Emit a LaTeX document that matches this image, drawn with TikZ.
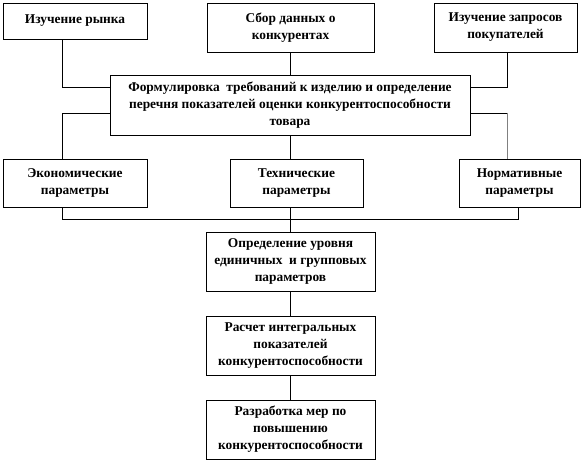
\documentclass[tikz,border=0pt]{standalone}
\usepackage{fontspec}
\setmainfont{Liberation Serif}
\usetikzlibrary{calc}
\definecolor{lineGray}{RGB}{128,128,128}

\begin{document}
\begin{tikzpicture}[x=1pt,y=-1pt,
  blok/.style={draw=black, line width=0.8pt, inner sep=0pt, align=center,
    font=\fontsize{13.4}{17}\selectfont\bfseries},
  link/.style={draw=black, line width=0.8pt}]
\useasboundingbox (0,0) rectangle (582,462);

% first row
\node[blok, minimum width=144, minimum height=36] (A) at (75,21) {Изучение рынка};
\node[blok, minimum width=167, minimum height=49] (B) at (290.5,27.5) {Сбор данных о\\конкурентах};
\node[blok, minimum width=143, minimum height=49] (C) at (505.5,27.5) {Изучение запросов\\покупателей};

\node[blok, minimum width=360, minimum height=60] (D) at (290,105)
  {Формулировка~ требований к изделию и определение\\перечня показателей оценки конкурентоспособности\\товара};

% parameters
\node[blok, minimum width=144, minimum height=48] (E) at (75,183) {Экономические\\параметры};
\node[blok, minimum width=133, minimum height=48] (F) at (296.5,183) {Технические\\параметры};
\node[blok, minimum width=121, minimum height=48] (G) at (519.5,183) {Нормативные\\параметры};

% chain
\node[blok, minimum width=169, minimum height=59] (H) at (290.5,261.5) {Определение уровня\\единичных~ и групповых\\параметров};
\node[blok, minimum width=169, minimum height=59] (I) at (290.5,345.5) {Расчет интегральных\\показателей\\конкурентоспособности};
\node[blok, minimum width=169, minimum height=59] (J) at (290.5,429.5) {Разработка мер по\\повышению\\конкурентоспособности};

\coordinate (xl) at (62,0);
\coordinate (xr) at (507,0);
\coordinate (xg) at (518,0);
\coordinate (yt) at (0,87);
\coordinate (ym) at (0,113);
\coordinate (yb) at (0,219);

\draw[link] (A.south -| xl) |- (D.west |- yt);
\draw[link] (B.south) -- (B.south |- D.north);
\draw[link] (C.south -| xr) |- (D.east |- yt);
\draw[link] (D.west |- ym) -| (E.north -| xl);
\draw[link] (D.east |- ym) -- (xr |- ym);
\draw[link, lineGray] (xr |- ym) -- (G.north -| xr);
\draw[link] (D.south) -- (D.south |- F.north);
\draw[link] (E.south -| xl) |- (xg |- yb) -- (G.south -| xg);
\draw[link] (F.south -| D.south) -- (H.north -| D.south);
\draw[link] (H.south) -- (I.north);
\draw[link] (I.south) -- (J.north);
\end{tikzpicture}
\end{document}
